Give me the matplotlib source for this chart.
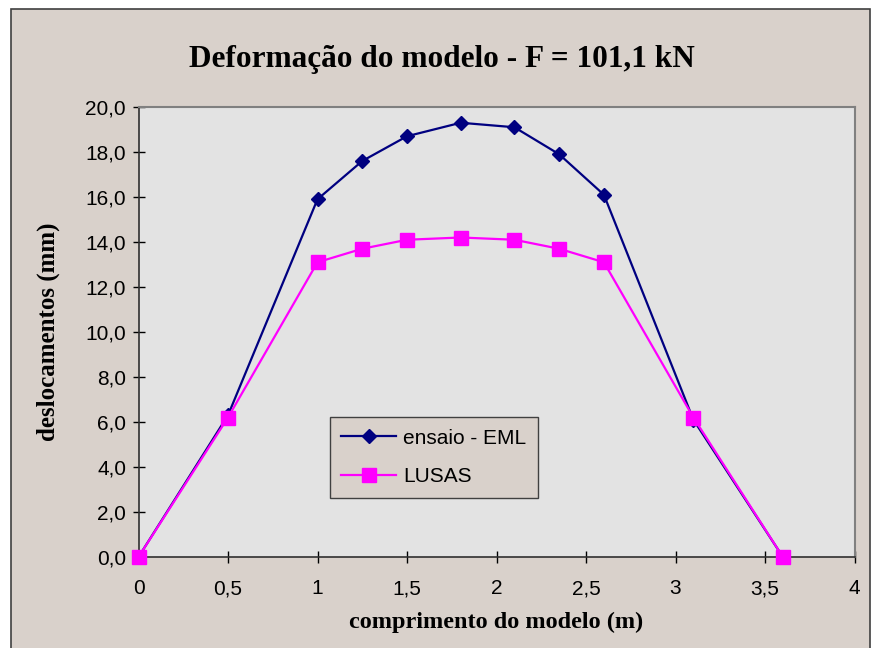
import matplotlib
matplotlib.use("Agg")
import matplotlib.pyplot as plt
from matplotlib.patches import Rectangle
from matplotlib.ticker import FuncFormatter

# dados
x_eml = [0, 0.5, 1.0, 1.25, 1.5, 1.8, 2.1, 2.35, 2.6, 3.1, 3.6]
y_eml = [0.0, 6.3, 15.9, 17.6, 18.7, 19.3, 19.1, 17.9, 16.1, 6.1, 0.0]

x_lusas = [0, 0.5, 1.0, 1.25, 1.5, 1.8, 2.1, 2.35, 2.6, 3.1, 3.6]
y_lusas = [0.0, 6.2, 13.1, 13.7, 14.1, 14.2, 14.1, 13.7, 13.1, 6.2, 0.0]

x_ticks = [0, 0.5, 1, 1.5, 2, 2.5, 3, 3.5, 4]
y_ticks = [0, 2, 4, 6, 8, 10, 12, 14, 16, 18, 20]

bg = '#d9d1cb'
serif = 'Liberation Serif'
sans = 'Liberation Sans'

fig = plt.figure(figsize=(8.72, 6.48), dpi=100)
fig.patch.set_facecolor('white')

# moldura externa
fig.patches.append(Rectangle((11 / 872, -0.01), (870 - 11) / 872, 1 - 9 / 648 + 0.01,
                             transform=fig.transFigure, facecolor=bg,
                             edgecolor='#404040', linewidth=1.2, zorder=-10))

ax = fig.add_axes([138.5 / 872, 91 / 648, 716 / 872, 450 / 648])
ax.set_facecolor('#e3e3e3')

ax.plot(x_eml, y_eml, color='#000080', linewidth=1.6, marker='D', markersize=7,
        label='ensaio - EML', zorder=3)
ax.plot(x_lusas, y_lusas, color='#ff00ff', linewidth=1.6, marker='s', markersize=10,
        label='LUSAS', zorder=3, clip_on=False)

ax.set_xlim(0, 4)
ax.set_ylim(0, 20)
ax.set_xticks(x_ticks)
ax.set_yticks(y_ticks)
ax.xaxis.set_major_formatter(FuncFormatter(lambda v, p: ('%g' % v).replace('.', ',')))
ax.yaxis.set_major_formatter(FuncFormatter(lambda v, p: ('%.1f' % v).replace('.', ',')))
ax.tick_params(direction='inout', length=8, width=1, labelsize=15)
ax.tick_params(axis='x', pad=12)
ax.tick_params(axis='y', pad=5)
for lab in ax.get_xticklabels() + ax.get_yticklabels():
    lab.set_fontfamily(sans)

for s in ['top', 'right']:
    ax.spines[s].set_color('#808080')
    ax.spines[s].set_linewidth(1.5)
for s in ['left', 'bottom']:
    ax.spines[s].set_color('#303030')
    ax.spines[s].set_linewidth(1.2)

fig.text(442 / 872, 1 - 60 / 648, 'Deformação do modelo - F = 101,1 kN',
         fontfamily=serif, fontweight='bold', fontsize=22.5, ha='center', va='center')
ax.set_xlabel('comprimento do modelo (m)', fontfamily=serif, fontweight='bold',
              fontsize=17.5, labelpad=10)
ax.set_ylabel('deslocamentos (mm)', fontfamily=serif, fontweight='bold',
              fontsize=18, labelpad=18)

leg = ax.legend(loc='upper left', bbox_to_anchor=(0.2675, 0.311), borderaxespad=0,
                prop={'family': sans, 'size': 15}, frameon=True, fancybox=False,
                handlelength=2.6, handletextpad=0.35, borderpad=0.55, labelspacing=0.95)
leg.get_frame().set_facecolor(bg)
leg.get_frame().set_edgecolor('#404040')
leg.get_frame().set_alpha(1)

fig.savefig('out.png', dpi=100, facecolor=fig.get_facecolor())
